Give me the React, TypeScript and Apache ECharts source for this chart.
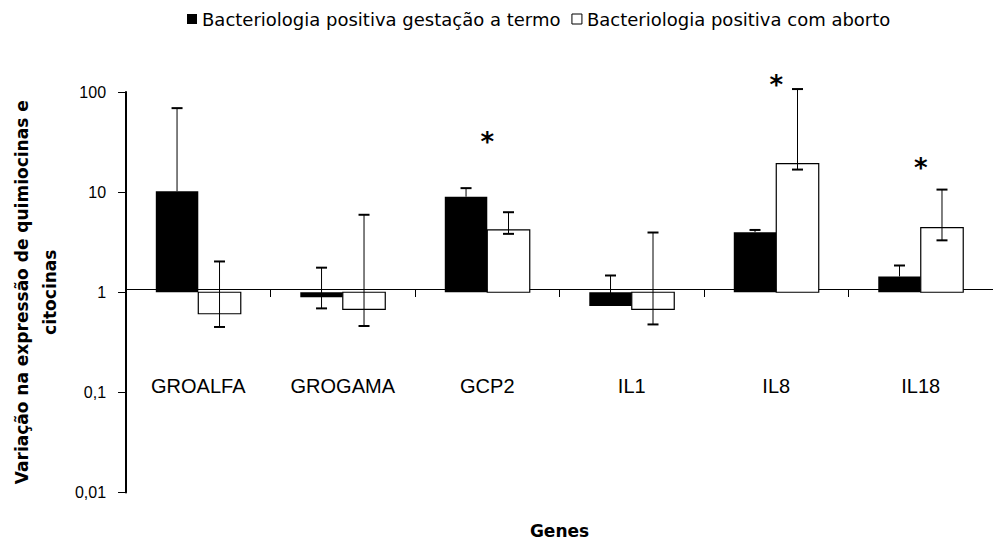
import React, { useEffect, useRef } from "react";
import * as echarts from "echarts";

// ---------- data ----------
const genes = ["GROALFA", "GROGAMA", "GCP2", "IL1", "IL8", "IL18"];
const seriesNames = [
  "Bacteriologia positiva gestação a termo",
  "Bacteriologia positiva com aborto",
];
const termoValues = [10.2, 0.89, 9.0, 0.73, 3.98, 1.44];
const termoErrHigh = [69, 1.76, 10.96, 1.47, 4.19, 1.85];
const termoErrLow: (number | null)[] = [null, 0.69, null, null, null, null];
const abortoValues = [0.61, 0.675, 4.19, 0.675, 19.3, 4.43];
const abortoErrHigh = [2.03, 5.94, 6.3, 3.95, 107, 10.6];
const abortoErrLow: (number | null)[] = [0.45, 0.46, 3.83, 0.477, 16.8, 3.3];
const significantGenes = ["GCP2", "IL8", "IL18"];
const asteriskValues = [36.6, 135, 19.9];
const yTickLabels = ["0,01", "0,1", "1", "10", "100"];

const BAR_FRACTION = 0.294;
const BLACK = "#000";
const WHITE = "#fff";

function barRender(side: number, fill: string, stroke: string | null) {
  return (params: any, api: any) => {
    const idx = api.value(0);
    const v = api.value(1);
    const top = api.coord([idx, v]);
    const base = api.coord([idx, 1]);
    const band = api.size([1, 0])[0];
    const w = band * BAR_FRACTION;
    const x = side < 0 ? top[0] - w : top[0];
    const y = Math.min(top[1], base[1]);
    const h = Math.abs(top[1] - base[1]);
    return {
      type: "rect",
      shape: { x, y, width: w, height: h },
      style: stroke ? { fill, stroke, lineWidth: 1.2 } : { fill },
    };
  };
}

function errRender(side: number, values: number[], lows: (number | null)[]) {
  return (params: any, api: any) => {
    const i = params.dataIndex;
    const idx = api.value(0);
    const hi = api.value(1);
    const lo = lows[i];
    const band = api.size([1, 0])[0];
    const w = band * BAR_FRACTION;
    const cHi = api.coord([idx, hi]);
    const cx = cHi[0] + side * (w / 2);
    const startVal = lo == null ? values[i] : lo;
    const cLo = api.coord([idx, startVal]);
    const cap = 5.5;
    const children: any[] = [
      {
        type: "line",
        shape: { x1: cx, y1: cHi[1], x2: cx, y2: cLo[1] },
        style: { stroke: BLACK, lineWidth: 1 },
      },
      {
        type: "line",
        shape: { x1: cx - cap, y1: cHi[1], x2: cx + cap, y2: cHi[1] },
        style: { stroke: BLACK, lineWidth: 2 },
      },
    ];
    if (lo != null) {
      children.push({
        type: "line",
        shape: { x1: cx - cap, y1: cLo[1], x2: cx + cap, y2: cLo[1] },
        style: { stroke: BLACK, lineWidth: 2 },
      });
    }
    return { type: "group", children };
  };
}

function asteriskRender(params: any, api: any) {
  const c = api.coord([api.value(0), api.value(1)]);
  const fs = 26;
  return {
    type: "text",
    x: c[0],
    y: c[1] + fs * 0.23,
    style: {
      text: "*",
      fill: BLACK,
      font: `bold ${fs}px "DejaVu Sans"`,
      textAlign: "center",
      textVerticalAlign: "middle",
    },
  };
}

export default function App() {
  const ref = useRef<HTMLDivElement>(null);
  useEffect(() => {
    if (!ref.current) return;
    const chart = echarts.init(ref.current, null, { renderer: "svg" });
    const option: any = {
      animation: false,
      backgroundColor: "#fff",
      legend: {
        left: 182,
        top: 5,
        icon: "rect",
        itemWidth: 10,
        itemHeight: 10,
        itemGap: 11,
        selectedMode: false,
        textStyle: { fontFamily: "DejaVu Sans", fontSize: 18, color: BLACK },
        data: [
          { name: seriesNames[0], itemStyle: { color: BLACK } },
          {
            name: seriesNames[1],
            itemStyle: { color: WHITE, borderColor: BLACK, borderWidth: 1 },
          },
        ],
      },
      grid: { left: 122, top: 92, right: -7, bottom: 45, containLabel: false },
      xAxis: {
        type: "category",
        data: genes,
        offset: -203.5,
        axisLine: { show: true, onZero: false, lineStyle: { color: BLACK, width: 1 } },
        axisTick: {
          show: true,
          interval: 0,
          length: 8,
          alignWithLabel: false,
          lineStyle: { color: BLACK, width: 1 },
        },
        axisLabel: {
          interval: 0,
          margin: 87,
          color: BLACK,
          fontFamily: "Liberation Sans",
          fontSize: 20,
        },
        splitLine: { show: false },
        name: "Genes",
        nameLocation: "middle",
        nameGap: 233,
        nameTextStyle: {
          fontFamily: "DejaVu Sans",
          fontWeight: "bold",
          fontSize: 17,
          color: BLACK,
        },
      },
      yAxis: {
        type: "log",
        logBase: 10,
        min: 0.01,
        max: 100,
        splitLine: { show: false },
        minorTick: { show: false },
        axisLine: { show: true, lineStyle: { color: BLACK, width: 2 } },
        axisTick: { show: true, length: 8, lineStyle: { color: BLACK, width: 1 } },
        axisLabel: {
          margin: 20,
          color: BLACK,
          fontFamily: "Liberation Sans",
          fontSize: 16,
          formatter: (v: number) => yTickLabels[Math.round(Math.log10(v)) + 2],
        },
        name: "Variação na expressão de quimiocinas e\ncitocinas",
        nameLocation: "middle",
        nameRotate: 90,
        nameGap: 62,
        nameTextStyle: {
          fontFamily: "DejaVu Sans",
          fontWeight: "bold",
          fontSize: 17,
          lineHeight: 28,
          color: BLACK,
        },
      },
      series: [
        {
          name: seriesNames[0],
          type: "custom",
          itemStyle: { color: BLACK },
          renderItem: barRender(-1, BLACK, null),
          data: termoValues.map((v, i) => [i, v]),
          z: 2,
        },
        {
          name: seriesNames[1],
          type: "custom",
          itemStyle: { color: WHITE, borderColor: BLACK, borderWidth: 1 },
          renderItem: barRender(1, WHITE, BLACK),
          data: abortoValues.map((v, i) => [i, v]),
          z: 2,
        },
        {
          name: "err-termo",
          type: "custom",
          renderItem: errRender(-1, termoValues, termoErrLow),
          data: termoErrHigh.map((v, i) => [i, v]),
          clip: false,
          z: 3,
        },
        {
          name: "err-aborto",
          type: "custom",
          renderItem: errRender(1, abortoValues, abortoErrLow),
          data: abortoErrHigh.map((v, i) => [i, v]),
          clip: false,
          z: 3,
        },
        {
          name: "significance",
          type: "custom",
          renderItem: asteriskRender,
          data: significantGenes.map((g, i) => [genes.indexOf(g), asteriskValues[i]]),
          clip: false,
          z: 4,
        },
      ],
    };
    chart.setOption(option);
    return () => chart.dispose();
  }, []);
  return (
    <div
      ref={ref}
      style={{ position: "absolute", left: 0, top: 0, width: 993, height: 544, background: "#fff" }}
    />
  );
}
